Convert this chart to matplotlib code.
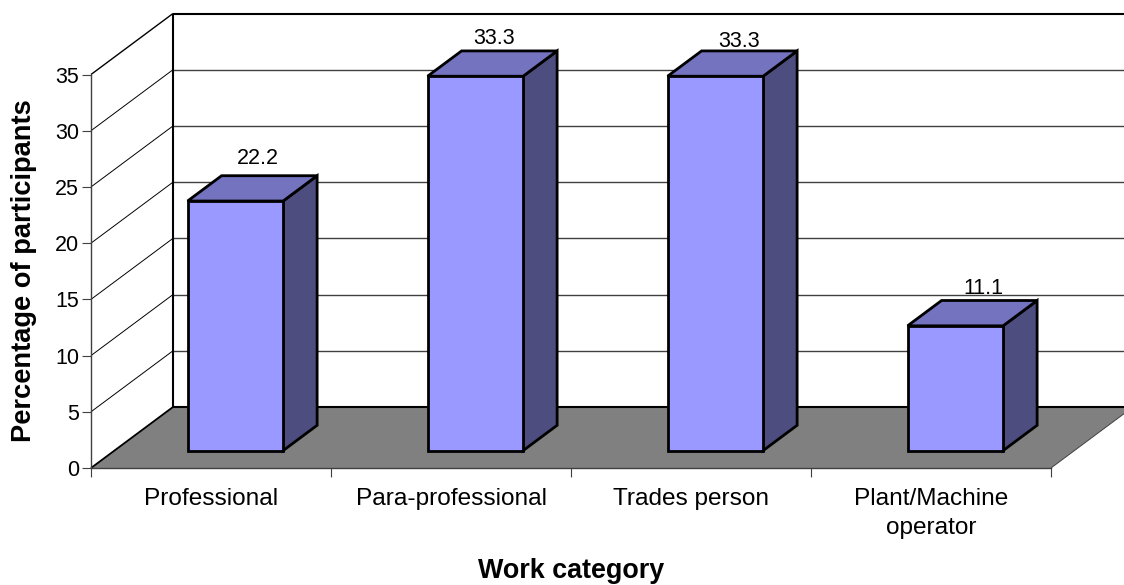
import matplotlib
matplotlib.use("Agg")
import matplotlib.pyplot as plt
from matplotlib.patches import Polygon

categories = ["Professional", "Para-professional", "Trades person", "Plant/Machine\noperator"]
percentages = [22.2, 33.3, 33.3, 11.1]
y_ticks = [0, 5, 10, 15, 20, 25, 30, 35]

# pixel offsets of the value labels from the top of each bar
label_offsets = [(23, 43), (19, 38), (24, 35), (28, 37)]

W, H = 1124, 585
plt.rcParams['font.family'] = ['Liberation Sans', 'DejaVu Sans']

fig = plt.figure(figsize=(W / 100, H / 100), dpi=100)
ax = fig.add_axes([91 / W, 1 - 468 / H, 960 / W, 393.5 / H])
ax.set_xlim(0, 4)
ax.set_ylim(0, 35)

# fake 3d: depth 0 is the front plane, depth 1 the back wall
DX = 82 / 240
DY = 61 / (393.5 / 35)


def proj(x, y, d):
    return x + d * DX, y + d * DY


def poly(pts, **kw):
    p = Polygon([proj(*q) for q in pts], closed=True, clip_on=False, **kw)
    ax.add_patch(p)


def line(a, b, **kw):
    pa, pb = proj(*a), proj(*b)
    ax.plot([pa[0], pb[0]], [pa[1], pb[1]], clip_on=False, solid_capstyle='butt', **kw)


# floor
poly([(0, 0, 0), (4, 0, 0), (4, 0, 1), (0, 0, 1)], facecolor='#808080', edgecolor='none', zorder=1)
line((0, 0, 1), (4, 0, 1), color='black', lw=1.5, zorder=2)
line((0, 0, 0), (0, 0, 1), color='black', lw=1.3, zorder=2)
line((4, 0, 0), (4, 0, 1), color='#404040', lw=0.7, zorder=2)

# walls and gridlines
for v in y_ticks[1:]:
    top = v == y_ticks[-1]
    line((0, v, 0), (0, v, 1), color='black', lw=1.0 if top else 0.7, zorder=2)
    line((0, v, 1), (4, v, 1), color='black' if top else '#404040', lw=1.5 if top else 1.0, zorder=2)
line((0, 0, 1), (0, 35, 1), color='black', lw=1.5, zorder=2)

# bars
for i, val in enumerate(percentages):
    x0, x1 = i + 0.305, i + 0.703
    d0, d1 = 0.285, 0.70
    style = dict(edgecolor='black', lw=2.0, joinstyle='miter', zorder=5)
    poly([(x1, 0, d0), (x1, 0, d1), (x1, val, d1), (x1, val, d0)], facecolor='#4D4D80', **style)
    poly([(x0, val, d0), (x1, val, d0), (x1, val, d1), (x0, val, d1)], facecolor='#7373BF', **style)
    poly([(x0, 0, d0), (x1, 0, d0), (x1, val, d0), (x0, val, d0)], facecolor='#9999FF', **style)

    ox, oy = label_offsets[i]
    cx, cy = proj((x0 + x1) / 2, val, d0)
    ax.annotate(f"{val:.1f}", (cx, cy), xytext=(ox * 0.72, oy * 0.72), textcoords='offset points',
                ha='center', va='center', fontsize=15.5, color='black', zorder=4, annotation_clip=False)

# axes
ax.patch.set_visible(False)
for side in ('top', 'right'):
    ax.spines[side].set_visible(False)
for side in ('left', 'bottom'):
    ax.spines[side].set_color('#404040')
    ax.spines[side].set_linewidth(1.0)
    ax.spines[side].set_zorder(3)

ax.set_yticks(y_ticks)
ax.tick_params(axis='y', length=6.5, width=0.8, color='#404040', labelsize=15.5, pad=2)
ax.set_xticks(range(5))
ax.set_xticklabels([])
ax.tick_params(axis='x', which='major', length=6.5, width=0.8, color='#404040')
ax.set_xticks([0.5, 1.5, 2.5, 3.5], minor=True)
ax.set_xticklabels(categories, minor=True, fontsize=17.6, linespacing=1.43)
ax.tick_params(axis='x', which='minor', length=0, pad=14.5)

fig.text(571.5 / W, 1 - 571.5 / H, "Work category", ha='center', va='center', fontsize=19.4, fontweight='bold')
fig.text(24 / W, 1 - 271 / H, "Percentage of participants", rotation=90, ha='center', va='center',
         fontsize=19.6, fontweight='bold')

fig.savefig("out.png", dpi=100)
